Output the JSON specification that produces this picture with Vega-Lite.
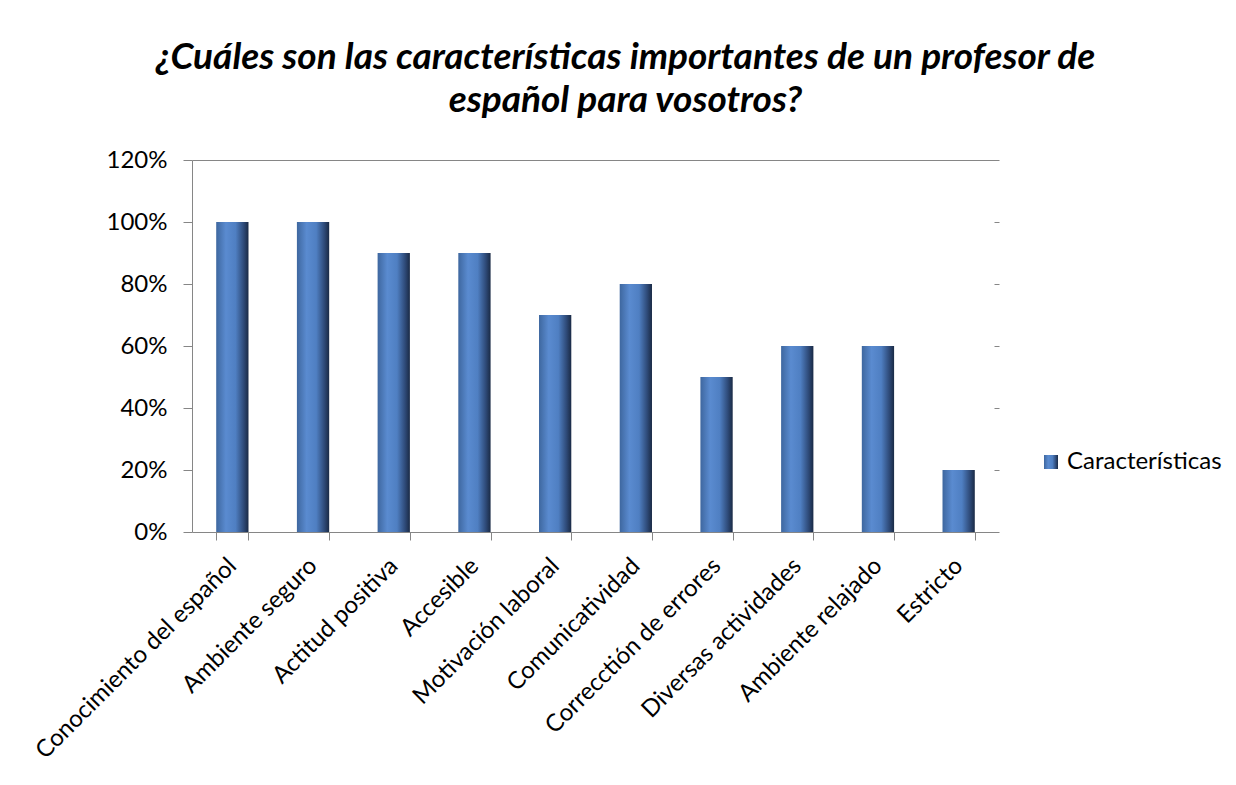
{
  "$schema": "https://vega.github.io/schema/vega-lite/v6.json",
  "autosize": {"type": "none"},
  "width": 807,
  "height": 372,
  "padding": {"left": 192, "top": 160, "right": 237, "bottom": 253},
  "background": "white",
  "config": {
    "view": {"stroke": null},
    "font": "Lato",
    "axis": {"labelFont": "Lato", "labelColor": "#000000", "labelFontSize": 24, "domainColor": "#868686", "tickColor": "#868686", "title": null},
    "legend": {"labelFont": "Lato", "labelColor": "#000000", "labelFontSize": 24}
  },
  "title": {
    "text": ["¿Cuáles son las características importantes de un profesor de", "español para vosotros?"],
    "font": "Lato",
    "fontSize": 37,
    "fontWeight": "bold",
    "fontStyle": "italic",
    "color": "#000000",
    "lineHeight": 43,
    "anchor": "middle",
    "frame": "group",
    "dx": 30,
    "offset": 28
  },
  "data": {
    "values": [
      {"caracteristica": "Conocimiento del español", "valor": 1.0, "serie": "Características"},
      {"caracteristica": "Ambiente seguro", "valor": 1.0, "serie": "Características"},
      {"caracteristica": "Actitud positiva", "valor": 0.9, "serie": "Características"},
      {"caracteristica": "Accesible", "valor": 0.9, "serie": "Características"},
      {"caracteristica": "Motivación laboral", "valor": 0.7, "serie": "Características"},
      {"caracteristica": "Comunicatividad", "valor": 0.8, "serie": "Características"},
      {"caracteristica": "Correcctión de errores", "valor": 0.5, "serie": "Características"},
      {"caracteristica": "Diversas actividades", "valor": 0.6, "serie": "Características"},
      {"caracteristica": "Ambiente relajado", "valor": 0.6, "serie": "Características"},
      {"caracteristica": "Estricto", "valor": 0.2, "serie": "Características"}
    ]
  },
  "layer": [
    {
      "mark": {"type": "bar", "color": {"gradient": "linear", "x1": 0, "x2": 1, "y1": 0, "y2": 0, "stops": [{"offset": 0, "color": "#3e679f"}, {"offset": 0.3, "color": "#5a8bd0"}, {"offset": 0.6, "color": "#4f7fc2"}, {"offset": 0.85, "color": "#2e4a78"}, {"offset": 1, "color": "#1a2a45"}]}},
      "encoding": {
        "x": {
          "field": "caracteristica", "type": "nominal", "sort": null,
          "scale": {"paddingInner": 0.6, "paddingOuter": 0.3},
          "axis": {"labelAngle": -45, "labelAlign": "right", "labelBaseline": "middle", "labelPadding": 22, "tickBand": "extent", "tickSize": 8, "labelLimit": 400}
        },
        "y": {
          "field": "valor", "type": "quantitative",
          "scale": {"domain": [0, 1.2], "nice": false},
          "axis": {"format": ".0%", "values": [0, 0.2, 0.4, 0.6, 0.8, 1.0, 1.2], "tickSize": 9, "labelPadding": 16, "grid": true, "gridColor": "#868686", "gridOpacity": {"condition": {"test": "datum.value > 1.1", "value": 1}, "value": 0}}
        },
        "opacity": {
          "field": "serie", "type": "nominal",
          "scale": {"range": [1]},
          "legend": {"title": null, "orient": "none", "legendX": 847, "legendY": 290, "symbolType": "square", "symbolSize": 196, "symbolFillColor": "#4a78b8", "symbolStrokeColor": "#2e4a78", "symbolStrokeWidth": 1, "symbolOpacity": 1, "labelOffset": 4}
        }
      }
    },
    {
      "mark": {"type": "tick", "opacity": 0},
      "encoding": {
        "y": {
          "field": "valor", "type": "quantitative",
          "axis": {"orient": "right", "values": [0.2, 0.4, 0.6, 0.8, 1.0], "labels": false, "domain": false, "tickSize": -5, "grid": false}
        }
      }
    }
  ],
  "resolve": {"axis": {"y": "independent"}}
}
